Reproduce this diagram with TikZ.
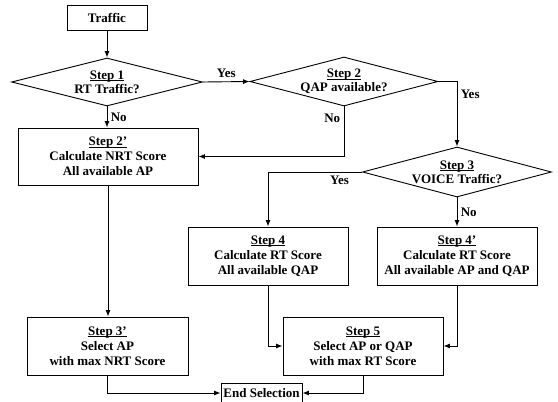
\documentclass[tikz,border=0pt]{standalone}
\usepackage{fontspec}
\setmainfont{Liberation Serif}
\usetikzlibrary{shapes.geometric,arrows.meta}

\newcommand{\stepname}[1]{\setbox0\hbox{#1}\rlap{\rule[-1.4pt]{\wd0}{0.6pt}}\box0}

\begin{document}
\begin{tikzpicture}[
    x=1pt, y=-1pt,
    box/.style={draw, line width=0.9pt, align=center, inner sep=0pt,
        font=\bfseries\fontsize{13}{15}\selectfont},
    decision/.style={draw, diamond, line width=0.9pt, inner sep=0pt},
    dtext/.style={align=center, inner sep=0pt,
        font=\bfseries\fontsize{13}{14}\selectfont},
    flow/.style={line width=0.9pt, -{Latex[length=6.5pt,width=5pt]}},
    lab/.style={font=\bfseries\fontsize{13}{15}\selectfont}
]
\useasboundingbox (0,0) rectangle (558,402);

\node[box, minimum width=80pt, minimum height=25pt] (traffic) at (107,17.5)
{Traffic};

\node[decision, minimum width=191pt, minimum height=48pt,
    label={[dtext]center:{\stepname{Step 1}\\RT Traffic?}}] (d1) at (107,82) {};

\node[decision, minimum width=188pt, minimum height=49pt,
    label={[dtext]center:{\stepname{Step 2}\\QAP available?}}] (d2) at (344,81.5) {};

\node[decision, minimum width=189pt, minimum height=50pt,
    label={[dtext]center:{\stepname{Step 3}\\VOICE Traffic?}}] (d3) at (457,172) {};

\node[box, minimum width=180pt, minimum height=57pt] (nrtcalc) at (108,156.5)
{\stepname{Step 2’}\\Calculate NRT Score\\All available AP};

\node[box, minimum width=160pt, minimum height=58pt] (rtcalc) at (268,256)
{\stepname{Step 4}\\Calculate RT Score\\All available QAP};

\node[box, minimum width=160pt, minimum height=58pt] (rtcalcall) at (457,256)
{\stepname{Step 4’}\\Calculate RT Score\\All available AP and QAP};

\node[box, minimum width=161pt, minimum height=58pt] (nrtsel) at (107.5,346)
{\stepname{Step 3’}\\Select AP\\with max NRT Score};

\node[box, minimum width=160pt, minimum height=58pt] (rtsel) at (363,346)
{\stepname{Step 5}\\Select AP or QAP\\with max RT Score};

\node[box, minimum width=81pt, minimum height=20pt] (finish) at (261.5,393)
{End Selection};

% decisions
\draw[flow] (traffic) -- (d1.north);
\draw[flow] (d1.east) -- node[lab, above] {Yes} (d2.west);
\draw[flow] (d1.south) -- node[lab, right] {No} (d1.south |- nrtcalc.north);
\draw[flow] (d2.south) |- node[lab, left, pos=0.12] {No} (nrtcalc.east);
\draw[flow] (d2.east) -| node[lab, right, pos=0.6] {Yes} (d3.north);
\draw[flow] (d3.west) -| node[lab, below, pos=0.12] {Yes} (rtcalc.north);
\draw[flow] (d3.south) -- node[lab, right] {No} (rtcalcall.north);

% scores to selection
\draw[flow] (nrtcalc.south) -- (nrtcalc.south |- nrtsel.north);
\draw[flow] (rtcalc.south) |- (rtsel.west);
\draw[flow] (rtcalcall.south) |- (rtsel.east);
\draw[flow] (nrtsel.south) |- (finish.west);
\draw[flow] (rtsel.south) |- (finish.east);

\end{tikzpicture}
\end{document}
